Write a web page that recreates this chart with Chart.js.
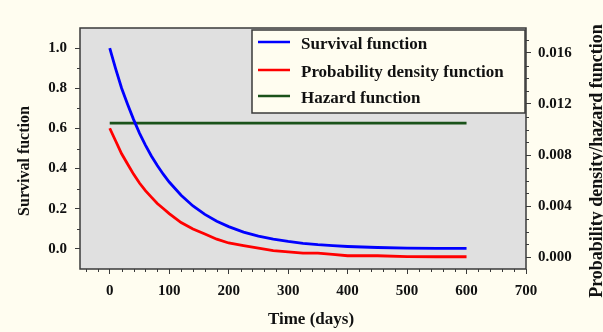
<!DOCTYPE html>
<html>
<head>
<meta charset="utf-8">
<script src="https://cdn.jsdelivr.net/npm/chart.js@4.4.1/dist/chart.umd.min.js"></script>
<style>
  html, body { margin: 0; padding: 0; background: #fffdf0; }
  #wrap { width: 603px; height: 332px; }
</style>
</head>
<body>
<div id="wrap"><canvas id="c" width="603" height="332"></canvas></div>
<script>
'use strict'

// values
var days = [0, 10, 20, 30, 40, 50, 60, 70, 80, 90, 100, 120, 140, 160, 180, 200,
  225, 250, 275, 300, 325, 350, 375, 400, 450, 500, 550, 600]
var survival = [1.000, 0.896, 0.800, 0.720, 0.645, 0.577, 0.517, 0.463, 0.415, 0.372,
  0.333, 0.267, 0.214, 0.172, 0.138, 0.111, 0.084, 0.064, 0.049, 0.037, 0.028,
  0.021, 0.016, 0.012, 0.007, 0.004, 0.003, 0.003]
var density = [0.0101, 0.0091, 0.0081, 0.0073, 0.0065, 0.0058, 0.0052, 0.0047, 0.0042,
  0.0038, 0.0034, 0.0027, 0.0022, 0.0018, 0.0014, 0.0011, 0.0009, 0.0007, 0.0005,
  0.0004, 0.0003, 0.0003, 0.0002, 0.0001, 0.0001, 0.00003, 0.00002, 0.00002]
var hazardDays = [0, 600]
var hazard = [0.0105, 0.0105]

var xTicks = [0, 100, 200, 300, 400, 500, 600, 700]
var leftTicks = [0, 0.2, 0.4, 0.6, 0.8, 1.0]
var rightTicks = [0, 0.004, 0.008, 0.012, 0.016]

var FONT = '"Liberation Serif", "Times New Roman", serif'
var INK = '#111'
var EDGE = '#3a3a3a'

function pairs(xs, ys) {
  return xs.map(function (x, i) { return { x: x, y: ys[i] } })
}

function setTicks(list) {
  return function (scale) {
    scale.ticks = list.map(function (v) { return { value: v } })
  }
}

// gray plot area, frame, minor ticks, titles and the inner legend
var decor = {
  id: 'decor',
  beforeDatasetsDraw: function (chart) {
    var a = chart.chartArea
    var ctx = chart.ctx
    ctx.save()
    ctx.fillStyle = '#e0e0e0'
    ctx.fillRect(a.left, a.top, a.right - a.left, a.bottom - a.top)
    ctx.restore()
  },
  afterDraw: function (chart) {
    var a = chart.chartArea
    var ctx = chart.ctx
    var s = chart.scales
    var i, p
    ctx.save()
    ctx.strokeStyle = EDGE
    ctx.lineWidth = 1.5
    ctx.strokeRect(a.left, a.top, a.right - a.left, a.bottom - a.top)

    ctx.lineWidth = 1
    ctx.beginPath()
    for (i = -40; i <= 700; i += 20) {
      if (i % 100 === 0) continue
      p = Math.round(s.x.getPixelForValue(i)) + 0.5
      ctx.moveTo(p, a.bottom)
      ctx.lineTo(p, a.bottom + 3)
    }
    for (i = 1; i <= 9; i += 2) {
      p = Math.round(s.y.getPixelForValue(i / 10)) + 0.5
      ctx.moveTo(a.left, p)
      ctx.lineTo(a.left - 3, p)
    }
    for (i = 1; i <= 17; i++) {
      if (i % 4 === 0) continue
      p = Math.round(s.y2.getPixelForValue(i / 1000)) + 0.5
      ctx.moveTo(a.right, p)
      ctx.lineTo(a.right + 3, p)
    }
    ctx.stroke()

    // axis titles
    ctx.fillStyle = INK
    ctx.font = 'bold 17px ' + FONT
    ctx.textAlign = 'center'
    ctx.textBaseline = 'middle'
    ctx.fillText('Time (days)', 311, 320)
    ctx.save()
    ctx.translate(25, 161)
    ctx.rotate(-Math.PI / 2)
    ctx.font = 'bold 16px ' + FONT
    ctx.fillText('Survival fuction', 0, 0)
    ctx.restore()
    ctx.save()
    ctx.translate(597, 161)
    ctx.rotate(-Math.PI / 2)
    ctx.font = 'bold 18px ' + FONT
    ctx.fillText('Probability density/hazard function', 0, 0)
    ctx.restore()

    // legend
    var bx = 252, by = 30, bw = 273, bh = 83
    ctx.fillStyle = '#fffdf0'
    ctx.fillRect(bx, by, bw, bh)
    ctx.strokeStyle = EDGE
    ctx.lineWidth = 1.5
    ctx.strokeRect(bx, by, bw, bh)
    var rows = [45, 73, 99]
    chart.data.datasets.forEach(function (ds, k) {
      ctx.strokeStyle = ds.borderColor
      ctx.lineWidth = 2.5
      ctx.beginPath()
      ctx.moveTo(258, rows[k] - 3)
      ctx.lineTo(290, rows[k] - 3)
      ctx.stroke()
      ctx.fillStyle = INK
      ctx.textAlign = 'left'
      ctx.fillText(ds.label, 301, rows[k])
    })
    ctx.restore()
  }
}

var tickFont = { family: FONT, size: 15, weight: 'bold' }

new Chart(document.getElementById('c'), {
  type: 'line',
  data: {
    datasets: [
      {
        label: 'Survival function',
        data: pairs(days, survival),
        borderColor: '#0000ff',
        yAxisID: 'y'
      },
      {
        label: 'Probability density function',
        data: pairs(days, density),
        borderColor: '#ff0000',
        yAxisID: 'y2'
      },
      {
        label: 'Hazard function',
        data: pairs(hazardDays, hazard),
        borderColor: '#1a521a',
        yAxisID: 'y2'
      }
    ]
  },
  options: {
    responsive: false,
    animation: false,
    layout: { padding: { top: 28, left: 0, right: 0, bottom: 0 } },
    elements: {
      point: { radius: 0 },
      line: { borderWidth: 2.8, tension: 0 }
    },
    plugins: { legend: { display: false }, tooltip: { enabled: false } },
    scales: {
      x: {
        type: 'linear',
        min: -50,
        max: 700,
        afterBuildTicks: setTicks(xTicks),
        afterFit: function (scale) { scale.height = 63 },
        grid: { drawOnChartArea: false, tickLength: 5, tickColor: EDGE },
        border: { display: false },
        ticks: {
          font: tickFont,
          color: INK,
          padding: 8,
          maxRotation: 0,
          callback: function (v) { return String(v) }
        }
      },
      y: {
        position: 'left',
        min: -0.1,
        max: 1.1,
        afterBuildTicks: setTicks(leftTicks),
        afterFit: function (scale) { scale.width = 80 },
        grid: { drawOnChartArea: false, tickLength: 5, tickColor: EDGE },
        border: { display: false },
        ticks: {
          font: tickFont,
          color: INK,
          padding: 8,
          callback: function (v) { return v.toFixed(1) }
        }
      },
      y2: {
        position: 'right',
        min: -0.00094,
        max: 0.01796,
        afterBuildTicks: setTicks(rightTicks),
        afterFit: function (scale) { scale.width = 77 },
        grid: { drawOnChartArea: false, tickLength: 5, tickColor: EDGE },
        border: { display: false },
        ticks: {
          font: tickFont,
          color: INK,
          padding: 7,
          callback: function (v) { return v.toFixed(3) }
        }
      }
    }
  },
  plugins: [decor]
})
</script>
</body>
</html>
